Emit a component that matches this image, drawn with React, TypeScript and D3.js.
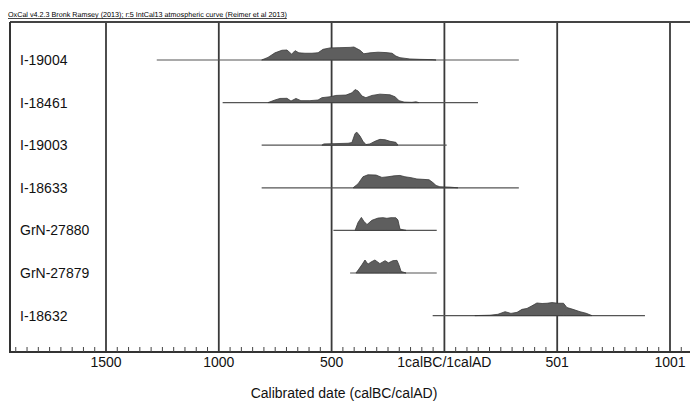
import React from "react";
import * as d3 from "d3";

const W = 690;
const H = 401;

const title =
  "OxCal v4.2.3 Bronk Ramsey (2013); r:5 IntCal13 atmospheric curve (Reimer et al 2013)";
const xTitle = "Calibrated date (calBC/calAD)";

const samples = ["I-19004", "I-18461", "I-19003", "I-18633", "GrN-27880", "GrN-27879", "I-18632"];

// range lines (years, BC negative)
const rangeStart = [-1275, -983, -810, -810, -492, -418, -52];
const rangeEnd = [330, 149, 10, 330, -34, -34, 889];

// probability profiles: [year, relative probability]
const prob19004: [number, number][] = [
  [-810, 0], [-782, 0.2], [-751, 0.55], [-720, 0.75], [-698, 0.77], [-677, 0.45], [-662, 0.72],
  [-645, 0.55], [-618, 0.52], [-587, 0.52], [-560, 0.56], [-538, 0.82], [-507, 0.93], [-463, 0.95],
  [-418, 0.97], [-401, 1.0], [-374, 0.75], [-357, 0.48], [-330, 0.55], [-294, 0.6], [-259, 0.57],
  [-232, 0.52], [-215, 0.3], [-197, 0.18], [-153, 0.08], [-108, 0.05], [-55, 0.03], [-37, 0],
];
const prob18461: [number, number][] = [
  [-782, 0], [-751, 0.2], [-729, 0.32], [-698, 0.33], [-680, 0.12], [-658, 0.32], [-636, 0.15],
  [-596, 0.15], [-560, 0.2], [-543, 0.38], [-507, 0.45], [-481, 0.55], [-436, 0.58], [-410, 0.75],
  [-396, 1.0], [-383, 0.9], [-365, 0.5], [-348, 0.38], [-321, 0.55], [-286, 0.65], [-241, 0.6],
  [-219, 0.45], [-201, 0.15], [-179, 0.04], [-144, 0.02], [-126, 0.06], [-113, 0],
];
const prob19003: [number, number][] = [
  [-543, 0], [-534, 0.1], [-485, 0.12], [-427, 0.15], [-410, 0.2], [-396, 0.9], [-388, 1.0],
  [-374, 0.7], [-361, 0.3], [-348, 0.05], [-330, 0.1], [-308, 0.3], [-286, 0.45], [-263, 0.42],
  [-241, 0.3], [-215, 0.22], [-206, 0],
];
const prob18633: [number, number][] = [
  [-405, 0], [-383, 0.3], [-361, 0.85], [-339, 1.0], [-303, 0.98], [-277, 0.8], [-250, 0.85],
  [-223, 0.92], [-197, 0.95], [-175, 0.85], [-148, 0.78], [-122, 0.68], [-95, 0.65], [-68, 0.62],
  [-51, 0.4], [-37, 0.18], [-20, 0.08], [25, 0.05], [60, 0],
];
const prob27880: [number, number][] = [
  [-396, 0], [-383, 0.6], [-368, 1.0], [-357, 0.7], [-343, 0.45], [-321, 0.78], [-294, 0.95],
  [-272, 0.98], [-255, 0.93], [-237, 0.98], [-215, 0.97], [-206, 0.8], [-197, 0.1], [-170, 0],
];
const prob27879: [number, number][] = [
  [-392, 0], [-379, 0.3], [-365, 0.65], [-352, 1.0], [-339, 0.68], [-325, 0.85], [-308, 1.0],
  [-286, 0.72], [-263, 0.95], [-248, 0.78], [-228, 0.95], [-210, 0.97], [-201, 0.6], [-192, 0.12],
  [-170, 0],
];
const prob18632: [number, number][] = [
  [135, 0], [202, 0.03], [237, 0.1], [269, 0.3], [295, 0.17], [322, 0.25], [344, 0.48],
  [366, 0.55], [388, 0.75], [410, 0.97], [433, 0.93], [455, 0.95], [477, 1.0], [504, 0.95],
  [528, 0.95], [543, 0.62], [570, 0.48], [601, 0.3], [628, 0.18], [654, 0],
];
const profiles = [prob19004, prob18461, prob19003, prob18633, prob27880, prob27879, prob18632];

const majorTicks = [-1500, -1000, -500, 0, 500, 1000];
const majorLabels = ["1500", "1000", "500", "1calBC/1calAD", "501", "1001"];

export default function App() {
  const left = 10;
  const top = 22;
  const bottom = 352;
  const x = d3.scaleLinear().domain([-1500, 1000]).range([106, 670]);
  const domainLeft = x.invert(left);
  const domainRight = x.invert(W);
  const y = d3.scalePoint<string>().domain(samples).range([60, 315.6]);
  const h = d3.scaleLinear().domain([0, 1]).range([0, 13]);

  const minor = d3.range(Math.ceil(domainLeft / 50) * 50, domainRight, 50).filter(
    (v) => !majorTicks.includes(v)
  );

  const font = "'Liberation Sans', Arial, sans-serif";

  return (
    <svg width={W} height={H} style={{ position: "absolute", left: 0, top: 0, background: "#fff" }}>
      <text x={8} y={17} fontFamily={font} fontSize={7.2} fill="#000" textDecoration="underline"
        style={{ textRendering: "geometricPrecision" }}>
        {title}
      </text>
      {/* gridlines */}
      {majorTicks.map((t) => (
        <line key={t} x1={x(t)} x2={x(t)} y1={top} y2={bottom} stroke="#3a3a3a" strokeWidth={1.8} />
      ))}
      {/* frame */}
      <line x1={left} x2={W} y1={top} y2={top} stroke="#444" strokeWidth={2} />
      <line x1={left} x2={left} y1={top} y2={bottom} stroke="#333" strokeWidth={2} />
      <line x1={left - 1} x2={W} y1={bottom} y2={bottom} stroke="#333" strokeWidth={2} />
      {/* minor ticks */}
      {minor.map((t) => (
        <line key={t} x1={x(t)} x2={x(t)} y1={bottom - 5} y2={bottom} stroke="#444" strokeWidth={1} />
      ))}
      {/* rows */}
      {samples.map((s, i) => {
        const base = y(s)!;
        const area = d3
          .area<[number, number]>()
          .x((d) => x(d[0]))
          .y0(base)
          .y1((d) => base - h(d[1]))
          .curve(d3.curveLinear);
        return (
          <g key={s}>
            <line
              x1={x(rangeStart[i])}
              x2={x(rangeEnd[i])}
              y1={base}
              y2={base}
              stroke="#555"
              strokeWidth={1.2}
            />
            <path d={area(profiles[i]) || ""} fill="#5e5e5e" stroke="#3a3a3a" strokeWidth={0.8} />
            <text x={20} y={base + 5} fontFamily={font} fontSize={14} fill="#111">
              {s}
            </text>
          </g>
        );
      })}
      {/* axis labels */}
      {majorTicks.map((t, i) => (
        <text key={t} x={x(t)} y={367} textAnchor="middle" fontFamily={font} fontSize={14} fill="#111">
          {majorLabels[i]}
        </text>
      ))}
      <text x={344} y={398} textAnchor="middle" fontFamily={font} fontSize={14} fill="#111">
        {xTitle}
      </text>
    </svg>
  );
}
